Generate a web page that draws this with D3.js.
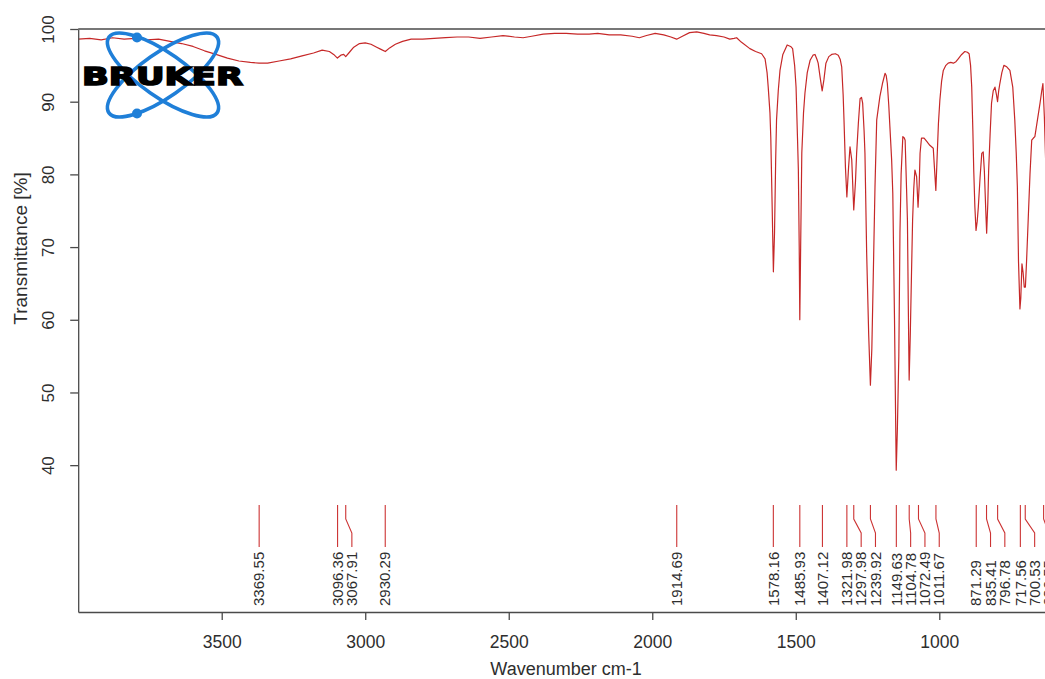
<!DOCTYPE html>
<html><head><meta charset="utf-8">
<script src="https://cdn.jsdelivr.net/npm/d3@7"></script>
<style>body{margin:0;background:#fff} svg{display:block} text{font-family:"Liberation Sans",Arial,sans-serif}</style>
</head><body><svg id="c" width="1045" height="679"></svg>
<script>
const wavenumbers = [4000,3960,3920,3880,3840,3800,3760,3720,3680,3640,3600,3560,3520,3480,3440,3400,3370,3340,3300,3260,3220,3180,3150,3125,3110,3097,3085,3075,3068,3055,3040,3020,3000,2980,2960,2945,2930,2915,2895,2870,2840,2800,2760,2720,2680,2640,2600,2560,2520,2480,2450,2420,2380,2340,2300,2260,2220,2190,2150,2110,2070,2045,2020,1990,1960,1935,1915,1895,1870,1845,1820,1800,1776,1750,1730,1715,1706,1690,1660,1640,1619,1607,1600,1596,1590,1587,1582,1578,1574,1570,1567,1561,1555,1545,1530,1518,1511,1504,1499,1494,1491,1488,1486,1483,1479,1473,1468,1460,1450,1440,1433,1426,1422,1415,1408,1402,1395,1385,1375,1362,1352,1345,1340,1335,1332,1327,1322,1316,1311,1305,1298,1292,1288,1282,1276,1271,1267,1262,1259,1253,1246,1240,1235,1230,1224,1218,1207,1198,1189,1185,1181,1176,1172,1166,1162,1156,1152,1150,1146,1141,1137,1133,1127,1122,1119,1114,1111,1108,1105,1101,1097,1093,1089,1085,1079,1074,1070,1067,1062,1053,1043,1033,1021,1017,1012,1007,1003,998,992,986,977,969,960,951,942,934,922,911,902,896,891,887,883,880,876,872,868,864,858,852,847,843,838,835,831,828,823,818,812,806,801,797,793,789,782,775,765,754,744,737,732,728,724,719,716,712,708,704,700,696,690,684,678,672,667,658,649,643,639,634,628,620,610,600];
const transmittance = [98.6,98.7,98.5,98.8,98.6,98.7,98.5,98.6,98.3,98.0,97.6,97.0,96.5,96.0,95.6,95.4,95.3,95.3,95.6,95.9,96.3,96.7,97.1,96.9,96.5,96.0,96.4,96.5,96.2,96.8,97.5,98.0,98.1,97.9,97.5,97.2,96.9,97.4,97.9,98.3,98.6,98.6,98.7,98.8,98.9,98.9,98.7,98.9,99.1,98.9,98.8,99.0,99.3,99.4,99.4,99.3,99.3,99.4,99.2,99.2,99.0,98.8,99.1,99.4,99.2,98.9,98.6,99.0,99.5,99.6,99.4,99.2,99.1,98.9,98.6,98.7,98.8,98.2,97.3,96.9,96.6,95.9,94.0,92.0,88.5,85.0,75.0,66.6,72.0,82.0,87.5,91.5,94.3,96.5,97.8,97.6,97.3,95.0,92.0,85.0,80.6,70.0,60.0,70.0,82.9,88.5,91.2,94.0,95.7,96.4,96.5,95.8,95.3,93.3,91.5,93.0,95.3,96.2,96.5,96.6,96.4,95.8,94.8,91.0,87.5,81.0,76.9,81.0,83.8,82.0,75.1,79.0,82.9,87.0,90.4,90.6,89.8,86.0,82.9,69.1,58.0,51.0,56.0,66.0,78.3,87.5,90.7,92.5,93.9,93.6,92.5,89.5,86.5,82.0,77.4,60.0,46.0,39.3,45.0,55.0,72.0,80.0,85.2,85.0,84.7,78.0,73.7,62.0,51.7,58.0,66.0,73.7,78.0,80.6,79.7,75.5,78.5,82.9,85.0,85.0,84.5,84.0,83.6,81.0,77.8,82.9,87.0,90.2,92.8,94.3,95.0,95.3,95.4,95.3,95.5,95.9,96.5,96.9,96.8,96.6,95.0,92.0,86.0,80.6,75.5,72.3,73.5,75.5,79.5,82.9,83.1,80.5,75.0,71.9,76.0,80.6,85.5,89.8,91.5,92.0,91.0,90.0,91.5,92.5,94.0,95.0,94.8,94.3,92.0,87.5,83.0,78.3,68.0,61.5,63.0,67.7,66.5,64.5,64.5,68.0,74.0,80.0,84.7,85.0,85.2,87.5,89.8,91.5,92.5,88.0,80.0,75.0,82.0,88.0];
const peakPositions = [3369.55,3096.36,3067.91,2930.29,1914.69,1578.16,1485.93,1407.12,1321.98,1297.98,1239.92,1149.63,1104.78,1072.49,1011.67,871.29,835.41,796.78,717.56,700.53,636.55];
const peakLabels = ["3369.55","3096.36","3067.91","2930.29","1914.69","1578.16","1485.93","1407.12","1321.98","1297.98","1239.92","1149.63","1104.78","1072.49","1011.67","871.29","835.41","796.78","717.56","700.53","636.55"];
const xTicks = [3500,3000,2500,2000,1500,1000];
const yTicks = [40,50,60,70,80,90,100];
const xTitle = "Wavenumber cm-1";
const yTitle = "Transmittance [%]";
const logoText = "BRUKER";

const svg = d3.select("#c");
svg.append("rect").attr("width",1045).attr("height",679).attr("fill","#fff");
const L = 78.2, R = 1054.1, T = 29, B = 612;
const x = d3.scaleLinear().domain([4000, 600]).range([L, R]);
const y = d3.scaleLinear().domain([19.8, 100]).range([B, T]);
const axisCol = "#4a4a4a", textCol = "#2e2e2e", red = "#c62828";

svg.append("defs").append("clipPath").attr("id","clip")
  .append("rect").attr("x",L).attr("y",T).attr("width",R-L).attr("height",B-T);

// frame top / right
svg.append("line").attr("x1",L).attr("x2",R).attr("y1",T).attr("y2",T).attr("stroke",axisCol).attr("stroke-width",1.3);
svg.append("line").attr("x1",R).attr("x2",R).attr("y1",T).attr("y2",B).attr("stroke",axisCol).attr("stroke-width",1.3);

// spectrum
const data = wavenumbers.map((w,i)=>[w, transmittance[i]]);
svg.append("path").datum(data)
  .attr("clip-path","url(#clip)")
  .attr("fill","none").attr("stroke",red).attr("stroke-width",1.2)
  .attr("stroke-linejoin","round")
  .attr("d", d3.line().x(d=>x(d[0])).y(d=>y(d[1])));

// x axis
const gx = svg.append("g").attr("transform",`translate(0,${B})`)
  .call(d3.axisBottom(x).tickValues(xTicks).tickSize(8).tickSizeOuter(0).tickFormat(d3.format("d")));
gx.select(".domain").attr("stroke",axisCol).attr("stroke-width",1.3);
gx.selectAll(".tick line").attr("stroke",axisCol).attr("stroke-width",1.3);
gx.selectAll(".tick text").attr("y",36).attr("dy",null).attr("fill",textCol)
  .style("font-size","17.5px").style("font-family",'"Liberation Sans",Arial,sans-serif');

// y axis
const gy = svg.append("g").attr("transform",`translate(${L},0)`)
  .call(d3.axisLeft(y).tickValues(yTicks).tickSize(8).tickSizeOuter(0).tickFormat(d3.format("d")));
gy.select(".domain").attr("stroke",axisCol).attr("stroke-width",1.3);
gy.selectAll(".tick line").attr("stroke",axisCol).attr("stroke-width",1.3);
gy.selectAll(".tick text").attr("x",null).attr("dy",null)
  .attr("transform","translate(-24.5,0) rotate(-90)").attr("text-anchor","middle")
  .attr("fill",textCol).style("font-size","17px").style("font-family",'"Liberation Sans",Arial,sans-serif');

// titles
svg.append("text").attr("x",566).attr("y",675).attr("text-anchor","middle")
  .attr("fill",textCol).style("font-size","18px").text(xTitle);
svg.append("text").attr("transform","translate(27,248.5) rotate(-90)").attr("text-anchor","middle")
  .attr("fill",textCol).style("font-size","19px").text(yTitle);

// peak labels
const gap = 14.3;
let prev = -1e9;
const peaks = peakPositions.map((p,i)=>{
  const xa = x(p);
  const xl = Math.max(xa, prev + gap);
  prev = xl;
  return {xa, xl, label: peakLabels[i]};
});
const gp = svg.append("g");
gp.selectAll("path").data(peaks).join("path")
  .attr("fill","none").attr("stroke","#cc3333").attr("stroke-width",1.1)
  .attr("d", d => Math.abs(d.xl-d.xa) < 0.5
     ? `M${d.xa},505V547`
     : `M${d.xa},505V519L${d.xl},533V547`);
gp.selectAll("text").data(peaks).join("text")
  .attr("transform", d=>`translate(${d.xl},606) rotate(-90)`)
  .attr("dy","0.35em").attr("text-anchor","start")
  .attr("fill",textCol).style("font-size","15px").text(d=>d.label);

// logo
const lg = svg.append("g");
const blue = "#1f7fd8";
[35,-35].forEach(a=>{
  lg.append("ellipse").attr("cx",0).attr("cy",0).attr("rx",66).attr("ry",22)
    .attr("transform",`translate(163,75) rotate(${a})`)
    .attr("fill","none").attr("stroke",blue).attr("stroke-width",3.6);
});
lg.append("circle").attr("cx",137).attr("cy",37.5).attr("r",5).attr("fill",blue);
lg.append("circle").attr("cx",137).attr("cy",113.5).attr("r",5).attr("fill",blue);
lg.append("text").attr("x",82).attr("y",85).attr("textLength",161).attr("lengthAdjust","spacingAndGlyphs")
  .attr("fill","#000").attr("stroke","#000").attr("stroke-width",1.6)
  .style("font-family",'"DejaVu Sans",sans-serif').style("font-weight","bold").style("font-size","25px")
  .text(logoText);
</script></body></html>
